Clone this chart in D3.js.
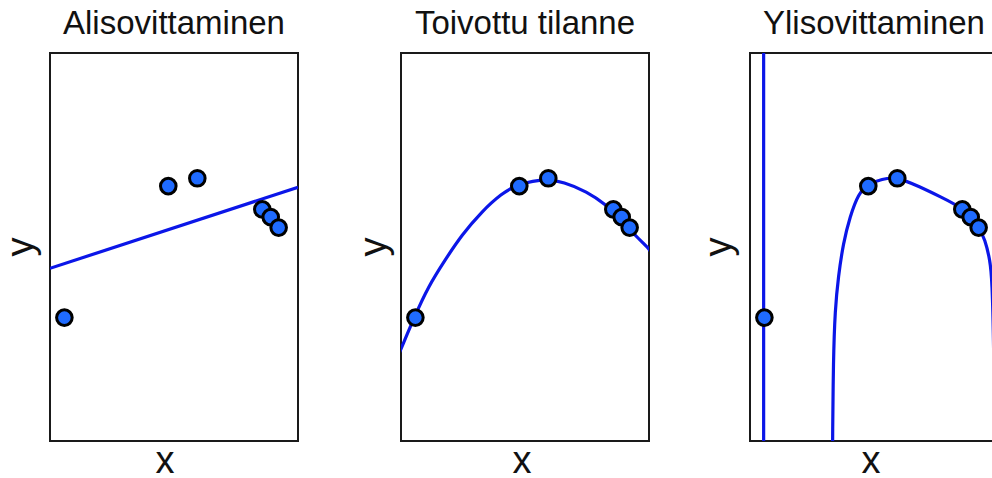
<!DOCTYPE html>
<html>
<head>
<meta charset="utf-8">
<script src="https://cdn.jsdelivr.net/npm/d3@7"></script>
<style>
    body { margin: 0; background: #fff; }
    text { font-family: "Liberation Sans", Arial, sans-serif; fill: #111; }
</style>
</head>
<body>
<svg id="chart" width="992" height="478"></svg>
<script>
// panel titles
let titles = ["Alisovittaminen", "Toivottu tilanne", "Ylisovittaminen"];

// observations, same for every panel
let pointsX = [5.8, 47.7, 59.4, 85.6, 89.0, 92.2];
let pointsY = [31.8, 65.7, 67.7, 59.7, 57.7, 55.0];

// fitted curves
let lineFit = [[0, 44.5], [100, 65.4]];

let goodFit = [[-1, 22.2], [0, 23.7], [5.4, 32.0], [11.0, 39.8], [17.7, 46.6], [24.5, 53.1],
    [32.5, 59.1], [40.6, 63.8], [46.7, 66.0], [53.3, 67.0], [58.8, 67.4],
    [65.4, 66.8], [74.9, 64.3], [82.9, 60.8], [88.3, 57.4], [92.3, 54.4],
    [98.4, 50.5], [100, 49.5], [101, 48.5]];

let overFitA = [[5.5, -2], [5.5, 102]];
let overFitB = [[33.3, -2], [33.3, 0], [33.6, 20.9], [34.3, 33.8], [35.6, 42.3],
    [37.6, 51.0], [40.3, 57.8], [43.7, 63.8], [47.7, 66.3], [53.2, 67.5],
    [59.2, 68.1], [68.5, 65.5], [76.6, 63.0], [86.0, 60.0], [92.1, 55.7],
    [94.8, 51.8], [96.8, 46.6], [97.6, 41.5], [98.3, 25], [98.6, 0], [98.6, -2]];

let curves = [[lineFit], [goodFit], [overFitA, overFitB]];

// layout
let boxW = 248, boxH = 388, boxTop = 53;
let panels = [
    {left: 50, xLab: -9, yLab: 33},
    {left: 401, xLab: -3, yLab: 386},
    {left: 750, xLab: -3, yLab: 731}
];

let svg = d3.select("#chart");

let x = d3.scaleLinear().domain([0, 100]).range([0, boxW]);
let y = d3.scaleLinear().domain([0, 100]).range([boxH, 0]);

let line = d3.line()
    .x(function(d) { return x(d[0]); })
    .y(function(d) { return y(d[1]); })
    .curve(d3.curveBasis);

let points = pointsX.map(function(v, i) { return [v, pointsY[i]]; });

for (let i = 0; i < panels.length; i++) {
    let p = panels[i];
    let g = svg.append("g").attr("transform", "translate(" + p.left + "," + boxTop + ")");

    g.append("clipPath").attr("id", "clip" + i)
        .append("rect").attr("width", boxW).attr("height", boxH);

    g.append("rect")
        .attr("width", boxW).attr("height", boxH)
        .attr("fill", "#fff").attr("stroke", "#1a1a1a").attr("stroke-width", 2);

    g.append("g").attr("clip-path", "url(#clip" + i + ")")
        .selectAll("path").data(curves[i]).enter().append("path")
        .attr("d", line)
        .attr("fill", "none")
        .attr("stroke", "#0b16e8")
        .attr("stroke-width", 3.2);

    g.selectAll("circle").data(points).enter().append("circle")
        .attr("cx", function(d) { return x(d[0]); })
        .attr("cy", function(d) { return y(d[1]); })
        .attr("r", 7.8)
        .attr("fill", "#1f6bff")
        .attr("stroke", "#000")
        .attr("stroke-width", 3);

    svg.append("text")
        .attr("x", p.left + boxW / 2).attr("y", 34)
        .attr("text-anchor", "middle")
        .style("font-size", "33px")
        .text(titles[i]);

    svg.append("text")
        .attr("x", p.left + boxW / 2 + p.xLab).attr("y", 473)
        .attr("text-anchor", "middle")
        .style("font-size", "38px")
        .text("x");

    svg.append("text")
        .attr("transform", "translate(" + p.yLab + "," + (boxTop + boxH / 2) + ") rotate(-90)")
        .attr("text-anchor", "middle")
        .style("font-size", "38px")
        .text("y");
}
</script>
</body>
</html>
